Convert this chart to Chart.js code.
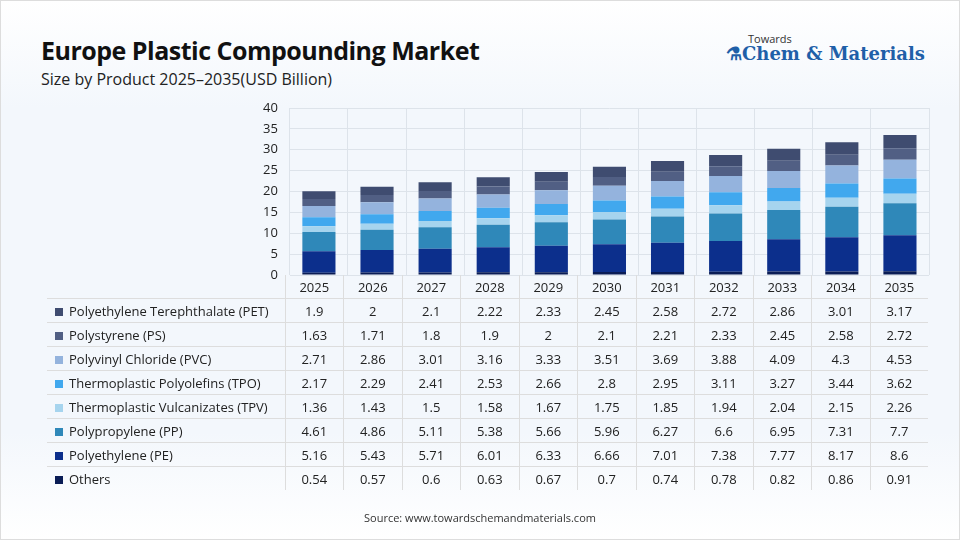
<!DOCTYPE html>
<html><head><meta charset="utf-8">
<script src="https://cdn.jsdelivr.net/npm/chart.js@4"></script>
<style>
body{margin:0;width:960px;height:540px;overflow:hidden;font-family:"Open Sans",sans-serif;background:linear-gradient(#ffffff 0%,#f3f7fc 20%,#f3f7fc 80%,#ffffff 100%);position:relative;border:1px solid #ddd;box-sizing:border-box}
h1{position:absolute;left:40px;top:32px;margin:0;font-size:25px;font-weight:700;color:#111;letter-spacing:-0.5px}
.sub{position:absolute;left:40px;top:67px;font-size:16px;color:#222}
.logo{position:absolute;right:34px;top:30px;text-align:left;color:#1f5fa8}
.logo .t{font-size:11px;color:#333;margin-left:22px}
.logo .c{font-family:"DejaVu Serif",serif;font-size:18px;font-weight:700;margin-top:-3px}
#c{position:absolute;left:0;top:0}
table{position:absolute;left:46px;top:274px;border-collapse:collapse;font-size:13px;color:#222}
td{border:1px solid #ddd;height:23px;padding:0;text-align:center;width:57.5px}
td.l{text-align:left;width:238px;padding-left:8px;box-sizing:border-box;border-left:none}
tr td:last-child{border-right:none}
tr:last-child td{border-bottom:none}
.sw{display:inline-block;width:8px;height:8px;margin-right:6px}
.src{position:absolute;left:0;right:0;top:509px;text-align:center;font-size:11px;color:#333}
</style></head><body>
<h1>Europe Plastic Compounding Market</h1>
<div class="sub">Size by Product 2025–2035(USD Billion)</div>
<div class="logo"><div class="t">Towards</div><div class="c">⚗Chem &amp; Materials</div></div>
<canvas id="c" width="960" height="540"></canvas>
<table id="tbl"></table>
<div class="src">Source: www.towardschemandmaterials.com</div>
<script>
const years = ['2025','2026','2027','2028','2029','2030','2031','2032','2033','2034','2035'];
const seriesNames = ['Polyethylene Terephthalate (PET)','Polystyrene (PS)','Polyvinyl Chloride (PVC)','Thermoplastic Polyolefins (TPO)','Thermoplastic Vulcanizates (TPV)','Polypropylene (PP)','Polyethylene (PE)','Others'];
const pet = [1.9,2,2.1,2.22,2.33,2.45,2.58,2.72,2.86,3.01,3.17];
const ps = [1.63,1.71,1.8,1.9,2,2.1,2.21,2.33,2.45,2.58,2.72];
const pvc = [2.71,2.86,3.01,3.16,3.33,3.51,3.69,3.88,4.09,4.3,4.53];
const tpo = [2.17,2.29,2.41,2.53,2.66,2.8,2.95,3.11,3.27,3.44,3.62];
const tpv = [1.36,1.43,1.5,1.58,1.67,1.75,1.85,1.94,2.04,2.15,2.26];
const pp = [4.61,4.86,5.11,5.38,5.66,5.96,6.27,6.6,6.95,7.31,7.7];
const pe = [5.16,5.43,5.71,6.01,6.33,6.66,7.01,7.38,7.77,8.17,8.6];
const others = [0.54,0.57,0.6,0.63,0.67,0.7,0.74,0.78,0.82,0.86,0.91];
const colors = ['#3f4c70','#515f84','#94b3dd','#41a8ee','#a6d4ee','#2f88b9','#0c2f8c','#0a1c55'];
const values = [pet,ps,pvc,tpo,tpv,pp,pe,others];

// table (header row doubles as the x axis labels)
let html = '<tr><td class="l" style="border-top:none"></td>' + years.map(y => `<td style="border-top:none">${y}</td>`).join('') + '</tr>';
seriesNames.forEach((n, i) => {
  html += `<tr><td class="l"><span class="sw" style="background:${colors[i]}"></span>${n}</td>` + values[i].map(v => `<td>${v}</td>`).join('') + '</tr>';
});
document.getElementById('tbl').innerHTML = html;

// chart: bottom series first
const datasets = [];
for (let i = seriesNames.length - 1; i >= 0; i--) {
  datasets.push({label: seriesNames[i], data: values[i], backgroundColor: colors[i], barPercentage: 0.57, categoryPercentage: 1});
}
new Chart(document.getElementById('c'), {
  type: 'bar',
  data: {labels: years, datasets},
  options: {
    responsive: false, animation: false,
    layout: {padding: {left: 250, top: 107, right: 32, bottom: 266}},
    plugins: {legend: {display: false}, tooltip: {enabled: false}},
    scales: {
      x: {stacked: true, grid: {display: true, color: '#dde3ea', drawTicks: false}, ticks: {display: false}, border: {display: false}},
      y: {stacked: true, min: 0, max: 40, ticks: {stepSize: 5, color: '#222', font: {size: 13, family: 'Open Sans'}, padding: 12}, grid: {color: '#dde3ea', drawTicks: false}, border: {display: false}}
    }
  }
});
</script>
</body></html>
